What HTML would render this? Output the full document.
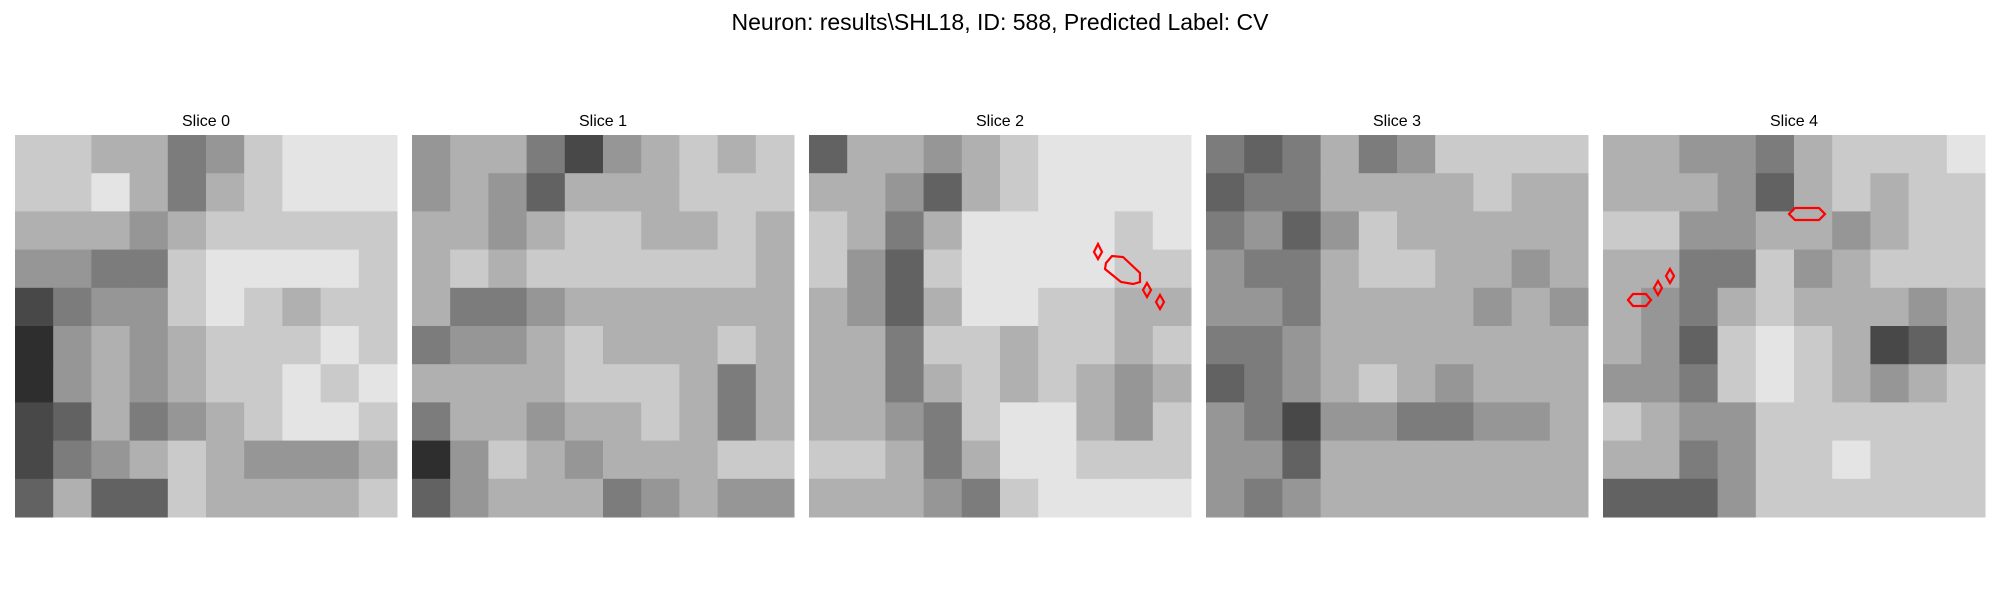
<!DOCTYPE html>
<html><head><meta charset="utf-8"><style>
body{margin:0;background:#fff;}
svg{display:block;font-family:"Liberation Sans","DejaVu Sans",sans-serif;}
</style></head><body>
<svg id="fig" width="2000" height="600" viewBox="0 0 2000 600">
<text x="1000" y="30" text-anchor="middle" font-size="23" fill="#000">Neuron: results\SHL18, ID: 588, Predicted Label: CV</text>
<g id="panels"></g>
<g fill="none" stroke="#ff0000" stroke-width="2.2">
<polygon points="1098,244 1102,252 1098,259 1094,252"/>
<polygon points="1106,263 1112,256 1123,257 1140,273 1140,282 1133,284 1121,282 1105,269"/>
<polygon points="1147,283 1151,290 1147,297 1143,290"/>
<polygon points="1160,295 1164,302 1160,309 1156,302"/>
<polygon points="1789,214 1795,208 1819,208 1825,214 1819,220 1795,220"/>
<polygon points="1628,300 1633,294 1646,294 1651,300 1646,306 1633,306"/>
<polygon points="1658,281 1662,288 1658,295 1654,288"/>
<polygon points="1670,269 1674,276 1670,283 1666,276"/>
</g>
</svg>
<script>
const sliceTitles = ["Slice 0","Slice 1","Slice 2","Slice 3","Slice 4"];
const slice0 = ["7766457888","7786467888","6665677777","5544788887","2455787677","1565677787","1565677878","2364567887","2456765556","3633766667"];
const slice1 = ["5664256767","5653666777","6656776676","6767777776","6445666666","4556766676","6666777646","4665667646","1576566677","3566645655"];
const slice2 = ["3665678888","6653678888","7646888878","7537888877","6536887766","6647767767","6646767656","6654788657","7764688777","6665478888"];
const slice3 = ["4346457777","3446666766","4535766666","5446776656","5546666565","4456666666","3456765666","5425544556","5536666666","5456666666"];
const slice4 = ["6655467778","6665367677","7755665677","6644756777","6546766656","6537876236","5547876567","7655777777","6645778777","3335777777"];
const slices = [slice0, slice1, slice2, slice3, slice4];
const svgNS = "http://www.w3.org/2000/svg";
const panelX = [15, 412, 809, 1206, 1603];
const panelY = 135, panelSize = 382;
const g = document.getElementById('panels');
slices.forEach((rows, p) => {
  const pg = document.createElementNS(svgNS, 'g');
  
  
  const n = rows.length, cs = panelSize / n;
  rows.forEach((row, r) => {
    for (let c = 0; c < row.length; c++) {
      const v = Math.min(255, 20 + (+row[c]) * 26);
      const rect = document.createElementNS(svgNS, 'rect');
      rect.setAttribute('x', panelX[p] + c * cs);
      rect.setAttribute('y', panelY + r * cs);
      rect.setAttribute('width', cs + 0.5);
      rect.setAttribute('height', cs + 0.5);
      rect.setAttribute('fill', `rgb(${v},${v},${v})`);
      
      
      pg.appendChild(rect);
    }
  });
  const t = document.createElementNS(svgNS, 'text');
  t.setAttribute('x', panelX[p] + panelSize / 2);
  t.setAttribute('y', 126);
  t.setAttribute('text-anchor', 'middle');
  t.setAttribute('font-size', '16');
  t.textContent = sliceTitles[p];
  
  
  pg.appendChild(t);
  g.appendChild(pg);
});
</script>
</body></html>
